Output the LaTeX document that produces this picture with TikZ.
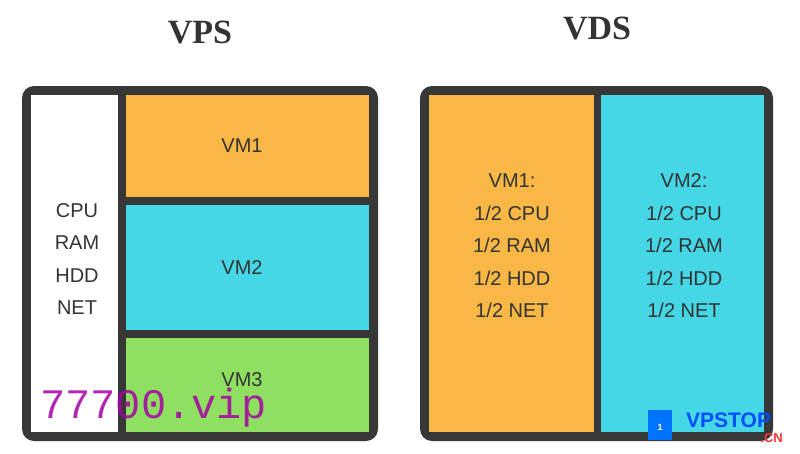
\documentclass[tikz,border=0pt]{standalone}
\usepackage{fontspec}
\setmainfont{Liberation Sans}
\newfontfamily\serif{Liberation Serif}
\newfontfamily\mono{Liberation Mono}
\begin{document}
\begin{tikzpicture}[x=1pt,y=-1pt,
  frame/.style={fill=dark,rounded corners=12pt},
  cell/.style={inner sep=0,align=center,font=\fontsize{20}{32.5}\selectfont,text=txt},
  title/.style={font=\serif\bfseries\fontsize{34}{36}\selectfont,text=txt}]
\definecolor{dark}{HTML}{373737}
\definecolor{txt}{HTML}{333333}
\definecolor{org}{HTML}{F9B846}
\definecolor{cya}{HTML}{45D7E5}
\definecolor{grn}{HTML}{8FE060}
\useasboundingbox (0,0) rectangle (800,453);
\node[title] (t1) at (200,32) {VPS};
\node[title] (t2) at (597,28) {VDS};
% left
\fill[frame] (22,86) rectangle (378,441);
\fill[white] (31,95) rectangle (118,432);
\fill[org] (126,95) rectangle (369,197);
\fill[cya] (126,205) rectangle (369,330);
\fill[grn] (126,338) rectangle (369,432);
\node[cell] (res) at (77,259) {CPU\\RAM\\HDD\\NET};
\node[cell] (v1) at (242,146) {VM1};
\node[cell] (v2) at (242,268) {VM2};
\node[cell] (v3) at (242,380) {VM3};
% right
\fill[frame] (420,86) rectangle (773,441);
\fill[org] (429,95) rectangle (594,432);
\fill[cya] (601,95) rectangle (764,432);
\node[cell] (r1) at (512,246) {VM1:\\1/2 CPU\\1/2 RAM\\1/2 HDD\\1/2 NET};
\node[cell] (r2) at (684,246) {VM2:\\1/2 CPU\\1/2 RAM\\1/2 HDD\\1/2 NET};
% watermarks
\node[font=\mono\fontsize{42}{42}\selectfont,text=violet!70!magenta,opacity=0.85,anchor=west,inner sep=0] (wm) at (40,408) {77700.vip};
\fill[blue!55!cyan] (648,410) rectangle (672,440);
\node[text=white,font=\bfseries\small] (one) at (660,427) {1};
\node[font=\bfseries\fontsize{21}{21}\selectfont,text=blue!70!cyan,anchor=west,inner sep=0] (vt) at (686,420) {VPSTOP};
\node[font=\bfseries\fontsize{13}{13}\selectfont,text=red!80,anchor=east,inner sep=0] (cn) at (783,438) {.CN};
\end{tikzpicture}
\end{document}
